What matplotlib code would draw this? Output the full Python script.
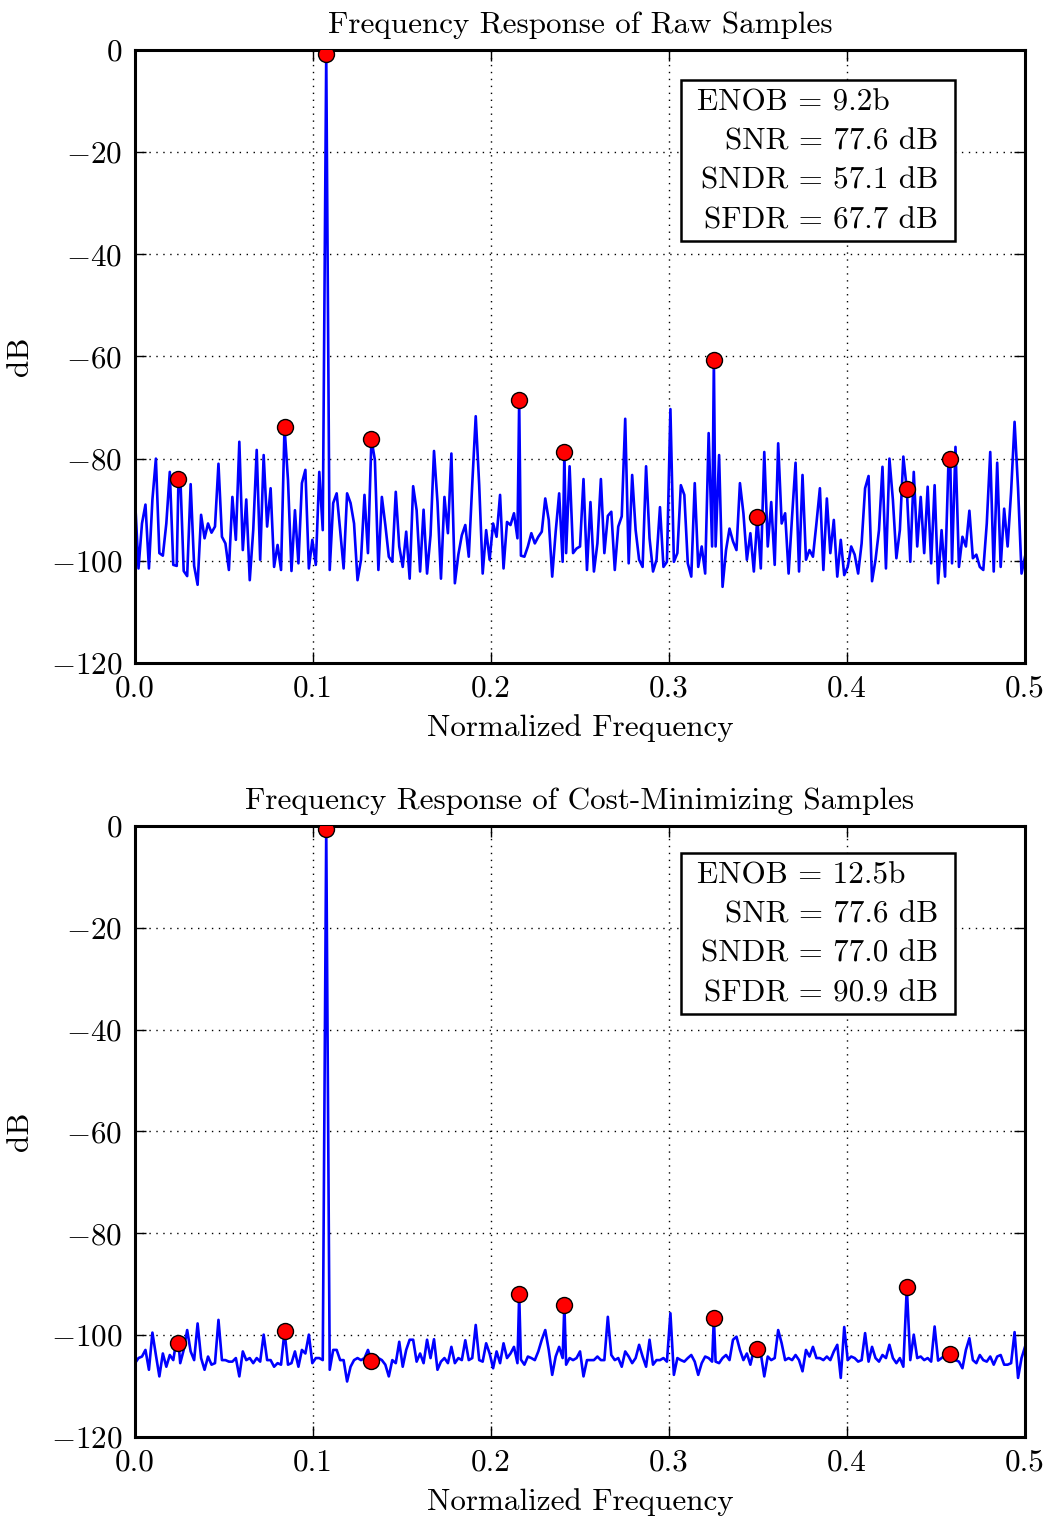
import numpy as np
import matplotlib
matplotlib.use("Agg")
import matplotlib.pyplot as plt
from matplotlib.patches import Rectangle

# FFT bins are in units of 1/1024; the noise floor was read every other bin
grid_bins = np.arange(0, 513, 2)

# harmonic bins: fundamental, 2f .. 10f (aliased)
harm_bins = np.array([110, 221, 333, 444, 469, 358, 247, 136, 25, 86])
raw_harm_db = np.array([-0.8, -68.6, -60.6, -86.0, -80.0, -91.5, -78.8, -76.2, -84.0, -73.8])
cm_harm_db = np.array([-0.6, -92.0, -96.6, -90.6, -103.7, -102.7, -94.0, -105.0, -101.5, -99.2])

raw_noise_db = np.array([
    -88.0, -101.5, -92.7, -89.0, -101.5, -88.0, -80.0, -98.5, -99.0, -92.7,
    -82.6, -100.8, -101.0, -83.0, -102.0, -103.0, -85.0, -101.0, -104.7, -91.0,
    -95.6, -92.7, -94.5, -93.3, -81.0, -95.3, -96.6, -101.8, -87.5, -95.9,
    -76.7, -97.9, -88.0, -103.8, -94.0, -78.3, -99.8, -79.3, -93.3, -85.8,
    -101.2, -96.9, -101.8, -95.0, -84.2, -102.0, -90.1, -100.5, -84.8, -82.2,
    -101.5, -95.9, -100.8, -82.6, -94.0, -100.8, -101.8, -88.7, -86.8, -94.0,
    -101.5, -86.8, -88.7, -92.7, -103.8, -99.8, -87.1, -98.5, -76.2, -80.3,
    -101.8, -87.5, -93.0, -99.2, -100.2, -86.5, -97.2, -101.2, -94.3, -103.5,
    -85.4, -90.1, -102.1, -90.0, -102.5, -95.0, -78.5, -88.5, -103.5, -87.5,
    -94.6, -79.0, -104.4, -98.8, -95.0, -93.0, -99.2, -85.0, -71.7, -85.2,
    -102.5, -94.0, -99.8, -92.7, -95.3, -87.1, -101.5, -92.4, -93.0, -90.7,
    -95.6, -99.0, -99.2, -97.2, -94.6, -96.6, -95.3, -94.3, -87.8, -92.0,
    -103.1, -94.3, -86.8, -100.2, -98.5, -81.5, -98.5, -97.6, -97.2, -84.0,
    -101.8, -88.5, -102.1, -96.6, -84.0, -98.5, -91.2, -90.4, -101.8, -93.3,
    -91.3, -72.2, -100.5, -83.2, -94.0, -99.8, -101.2, -81.5, -95.6, -102.1,
    -99.8, -89.5, -101.2, -100.2, -70.3, -100.2, -98.5, -85.2, -87.1, -100.5,
    -103.1, -84.8, -101.2, -97.2, -102.5, -75.0, -97.2, -97.2, -79.3, -105.1,
    -97.9, -93.7, -96.2, -97.9, -84.8, -90.7, -99.8, -94.6, -102.1, -91.5,
    -101.5, -78.7, -97.2, -88.5, -100.8, -77.0, -92.7, -90.7, -102.5, -91.3,
    -80.8, -102.1, -83.2, -99.8, -97.9, -99.2, -92.7, -85.8, -101.8, -87.8,
    -98.5, -92.0, -103.1, -95.9, -102.8, -101.2, -97.2, -98.8, -102.5, -96.6,
    -85.8, -83.4, -104.0, -99.8, -94.0, -81.6, -101.5, -80.0, -88.1, -99.5,
    -94.0, -79.6, -86.0, -100.2, -82.6, -97.2, -87.5, -98.5, -85.5, -100.5,
    -85.2, -104.4, -94.0, -103.1, -80.3, -100.5, -77.7, -101.2, -95.3, -97.2,
    -90.2, -99.5, -98.8, -101.2, -101.8, -92.7, -78.7, -102.1, -80.8, -101.2,
    -89.8, -97.2, -86.5, -72.8, -85.8, -102.5, -99.2,
])

cm_noise_db = np.array([
    -105.5, -104.5, -104.2, -102.9, -106.8, -99.5, -103.9, -108.1, -103.6, -106.2,
    -103.9, -104.9, -100.6, -105.5, -102.9, -99.0, -103.2, -104.9, -97.7, -104.5,
    -106.8, -104.2, -105.8, -105.5, -97.0, -104.9, -104.9, -105.2, -105.2, -104.5,
    -108.1, -103.2, -104.9, -104.5, -105.5, -104.5, -105.2, -99.9, -104.9, -104.9,
    -106.2, -105.5, -105.8, -99.2, -105.8, -105.5, -103.2, -106.2, -102.9, -103.6,
    -99.9, -105.5, -104.5, -104.5, -104.9, -105.2, -106.8, -102.9, -102.9, -104.9,
    -104.9, -109.1, -106.2, -104.9, -104.5, -104.9, -104.5, -102.9, -105.0, -103.9,
    -104.5, -104.9, -105.8, -108.1, -104.9, -105.5, -101.3, -106.2, -102.9, -100.9,
    -100.9, -105.2, -103.6, -105.5, -100.9, -104.5, -100.8, -106.8, -105.2, -104.5,
    -105.5, -102.3, -105.5, -104.5, -104.9, -101.0, -104.9, -104.5, -98.0, -104.9,
    -105.2, -101.6, -103.6, -106.5, -103.2, -105.5, -101.6, -104.5, -103.6, -102.3,
    -105.5, -104.8, -105.8, -104.2, -104.5, -104.9, -103.2, -100.9, -99.0, -102.9,
    -107.8, -104.2, -102.3, -104.5, -105.8, -104.5, -104.9, -104.5, -103.2, -108.1,
    -104.9, -104.9, -104.9, -104.2, -104.9, -104.9, -96.4, -103.9, -104.9, -104.5,
    -106.2, -103.2, -104.2, -105.5, -104.5, -101.9, -104.2, -106.2, -100.9, -105.8,
    -104.9, -104.9, -104.5, -105.2, -95.7, -107.8, -104.5, -104.9, -105.2, -104.5,
    -103.9, -105.2, -107.8, -105.5, -104.2, -104.5, -105.2, -105.2, -105.5, -104.5,
    -103.9, -104.9, -100.9, -100.3, -102.9, -104.9, -103.6, -105.8, -102.9, -102.7,
    -103.6, -108.1, -104.2, -104.9, -104.5, -99.0, -101.6, -104.9, -104.5, -104.9,
    -103.9, -104.9, -107.1, -102.9, -104.2, -102.3, -104.5, -104.5, -104.9, -104.2,
    -104.9, -103.2, -101.9, -108.4, -98.4, -104.9, -104.2, -104.5, -105.2, -104.9,
    -99.6, -105.2, -102.3, -104.5, -105.2, -103.9, -104.5, -101.9, -104.5, -105.5,
    -104.5, -106.2, -90.6, -104.9, -99.9, -104.5, -104.2, -104.9, -104.5, -105.2,
    -98.3, -105.0, -104.5, -103.9, -104.2, -104.5, -104.9, -105.2, -106.5, -102.9,
    -100.6, -104.9, -105.5, -103.9, -104.9, -105.2, -104.2, -105.8, -104.2, -103.9,
    -105.8, -105.8, -105.5, -99.4, -108.4, -104.5, -102.3,
])

titles = ["Frequency Response of Raw Samples",
          "Frequency Response of Cost-Minimizing Samples"]
enob = ["9.2b", "12.5b"]
snr = ["77.6", "77.6"]
sndr = ["57.1", "77.0"]
sfdr = ["67.7", "90.9"]

plt.rcParams["font.family"] = ["cmr10", "DejaVu Serif"]
plt.rcParams["mathtext.fontset"] = "cm"
plt.rcParams["axes.formatter.use_mathtext"] = True
plt.rcParams["font.size"] = 22.4

fig = plt.figure(figsize=(10.5, 15.24), dpi=100)
ax_top = fig.add_axes([0.1286, 0.565, 0.8476, 0.4022])
ax_bot = fig.add_axes([0.1286, 0.0571, 0.8476, 0.4009])

panels = [(ax_top, raw_noise_db, raw_harm_db, 0),
          (ax_bot, cm_noise_db, cm_harm_db, 1)]

for ax, noise, harm, k in panels:
    keep = ~np.isin(grid_bins, harm_bins)
    bins = np.concatenate([grid_bins[keep], harm_bins])
    db = np.concatenate([noise[keep], harm])
    order = np.argsort(bins)
    freq = bins[order] / 1024.0

    ax.plot(freq, db[order], color="#0000ff", lw=1.9, zorder=2)
    ax.plot(harm_bins / 1024.0, harm, "o", ms=11.5, mfc="red", mec="black",
            mew=1.0, zorder=3)

    ax.set_xlim(0, 0.5)
    ax.set_ylim(-120, 0)
    ax.set_xticks([0.0, 0.1, 0.2, 0.3, 0.4, 0.5])
    ax.set_xticklabels(["0.0", "0.1", "0.2", "0.3", "0.4", "0.5"])
    ax.set_yticks([0, -20, -40, -60, -80, -100, -120])
    ax.grid(True, color="black", ls=(0, (1, 4)), lw=1.0)
    ax.tick_params(direction="in", length=8, width=1, top=True, right=True, pad=9)
    for s in ax.spines.values():
        s.set_linewidth(2.2)
    ax.set_title(titles[k], pad=12, fontsize=22.4)
    ax.set_xlabel("Normalized Frequency", labelpad=8)
    ax.set_ylabel("dB", labelpad=12)

    # stats box
    y0 = 0.688 if k == 0 else 0.692
    y1 = 0.951 if k == 0 else 0.956
    ax.add_patch(Rectangle((0.6135, y0), 0.9213 - 0.6135, y1 - y0,
                           transform=ax.transAxes, facecolor="white",
                           edgecolor="black", lw=1.8, zorder=5))
    rows = np.linspace(y1 - 0.037, y0 + 0.034, 4)
    ax.text(0.6315, rows[0], "ENOB = " + enob[k], transform=ax.transAxes,
            ha="left", va="center", zorder=6)
    ax.text(0.902, rows[1], "SNR = " + snr[k] + " dB", transform=ax.transAxes,
            ha="right", va="center", zorder=6)
    ax.text(0.902, rows[2], "SNDR = " + sndr[k] + " dB", transform=ax.transAxes,
            ha="right", va="center", zorder=6)
    ax.text(0.902, rows[3], "SFDR = " + sfdr[k] + " dB", transform=ax.transAxes,
            ha="right", va="center", zorder=6)

fig.savefig("out.png", dpi=100)
